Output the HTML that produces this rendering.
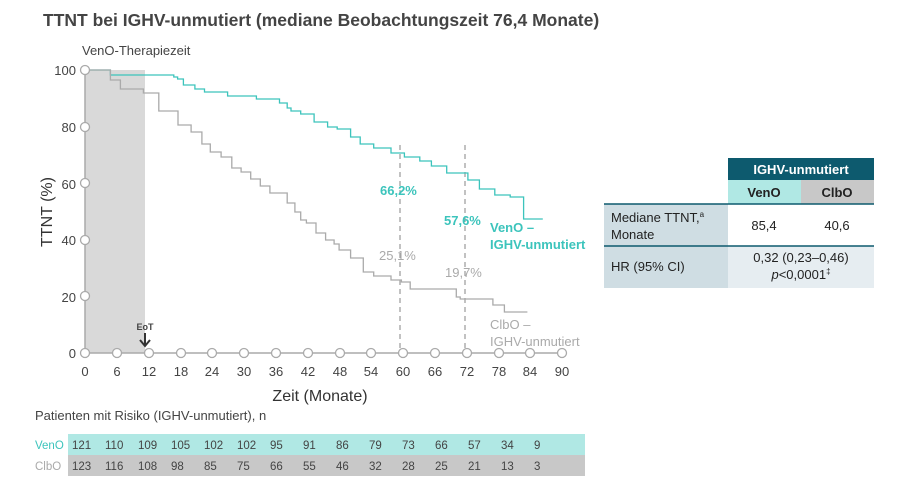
<!DOCTYPE html>
<html><head><meta charset="utf-8"><style>
body{margin:0;background:#fff;font-family:"Liberation Sans",sans-serif;}
svg text{font-family:"Liberation Sans",sans-serif;}
</style></head><body>
<svg width="909" height="493" viewBox="0 0 909 493" xmlns="http://www.w3.org/2000/svg">
<text x="43" y="26" font-size="17.5" fill="#444" font-weight="bold">TTNT bei IGHV-unmutiert (mediane Beobachtungszeit 76,4 Monate)</text>
<text x="82" y="55" font-size="13" fill="#444">VenO-Therapiezeit</text>
<rect x="85" y="70" width="60" height="283" fill="#d9d9d9"/>
<line x1="85" y1="70" x2="85" y2="353" stroke="#aaa" stroke-width="1.5"/>
<line x1="85" y1="353" x2="562" y2="353" stroke="#aaa" stroke-width="1.5"/>
<g font-size="13" fill="#444" text-anchor="end">
<text x="76" y="75">100</text><text x="76" y="132">80</text><text x="76" y="189">60</text><text x="76" y="245">40</text><text x="76" y="302">20</text><text x="76" y="358">0</text>
</g>
<line x1="400" y1="145" x2="400" y2="353" stroke="#999" stroke-width="1.2" stroke-dasharray="5,4"/>
<line x1="465" y1="145" x2="465" y2="353" stroke="#999" stroke-width="1.2" stroke-dasharray="5,4"/>
<path fill="none" stroke="#3cc4bc" stroke-width="1.3" d="M85 70 H110.4 V75 H173.8 V77 H177.6 V79 H183.4 V85 H194.9 V89 H204.5 V92 H227.6 V96 H256.4 V99 H279.5 V103 H287.2 V108 H291 V111 H300.7 V114 H314.1 V122 H327.6 V127 H337.2 V129 H350.6 V137 H360.2 V144 H373.7 V148 H391 V153 H404.4 V157 H419.8 V161 H431.4 V166 H446.7 V173 H467.9 V180 H479.4 V189 H494.8 V195 H510.2 V197 H523.6 V219 H542.8"/>
<path fill="none" stroke="#aaa" stroke-width="1.3" d="M85 70 H110.4 V80 H120.4 V89 H143.4 V93 H158.8 V111 H178 V125 H191.1 V132 H201.9 V144 H210.3 V152 H221.1 V157 H231.8 V168 H241.1 V172 H250.7 V179 H260.3 V186 H269.9 V193 H287.2 V203 H294.9 V212 H300.7 V220 H306.4 V223 H316 V233 H325.6 V240 H334.1 V244 H339.1 V250 H350.6 V258 H363.3 V272 H373.7 V276 H391 V280 H401.4 V282 H410.2 V289 H456.3 V297 H460.2 V299 H492.9 V305 H504.4 V312 H527.4"/>
<g fill="#fff" stroke="#aaa" stroke-width="1.3">
<circle cx="85" cy="70" r="4.5"/><circle cx="85" cy="127" r="4.5"/><circle cx="85" cy="183" r="4.5"/><circle cx="85" cy="240" r="4.5"/><circle cx="85" cy="296" r="4.5"/>
<circle cx="85" cy="353" r="4.5"/><circle cx="117" cy="353" r="4.5"/><circle cx="149" cy="353" r="4.5"/><circle cx="181" cy="353" r="4.5"/><circle cx="212" cy="353" r="4.5"/><circle cx="244" cy="353" r="4.5"/><circle cx="276" cy="353" r="4.5"/><circle cx="308" cy="353" r="4.5"/><circle cx="340" cy="353" r="4.5"/><circle cx="371" cy="353" r="4.5"/><circle cx="403" cy="353" r="4.5"/><circle cx="435" cy="353" r="4.5"/><circle cx="467" cy="353" r="4.5"/><circle cx="499" cy="353" r="4.5"/><circle cx="530" cy="353" r="4.5"/><circle cx="562" cy="353" r="4.5"/>
</g>
<g font-size="13" fill="#444" text-anchor="middle">
<text x="85" y="376">0</text><text x="117" y="376">6</text><text x="149" y="376">12</text><text x="181" y="376">18</text><text x="212" y="376">24</text><text x="244" y="376">30</text><text x="276" y="376">36</text><text x="308" y="376">42</text><text x="340" y="376">48</text><text x="371" y="376">54</text><text x="403" y="376">60</text><text x="435" y="376">66</text><text x="467" y="376">72</text><text x="499" y="376">78</text><text x="530" y="376">84</text><text x="562" y="376">90</text>
</g>
<text x="320" y="401" font-size="16" fill="#333" text-anchor="middle">Zeit (Monate)</text>
<text transform="translate(52,212) rotate(-90)" font-size="16" fill="#333" text-anchor="middle">TTNT (%)</text>
<text x="145" y="330" font-size="9" fill="#444" text-anchor="middle" font-weight="bold">EoT</text>
<path d="M145 333 V345 M140 340 L145 346 L150 340" stroke="#333" stroke-width="2" fill="none"/>
<g font-size="13" font-weight="bold" fill="#3cc4bc">
<text x="380" y="195">66,2%</text>
<text x="444" y="225">57,6%</text>
<text x="490" y="232">VenO –</text>
<text x="490" y="249">IGHV-unmutiert</text>
</g>
<g font-size="13" fill="#aaa">
<text x="379" y="260">25,1%</text>
<text x="445" y="277">19,7%</text>
<text x="490" y="329">ClbO –</text>
<text x="490" y="346">IGHV-unmutiert</text>
</g>
<rect x="728" y="158" width="146" height="22" fill="#0d5a6e"/>
<text x="801" y="174" font-size="13" font-weight="bold" fill="#fff" text-anchor="middle">IGHV-unmutiert</text>
<rect x="728" y="180" width="73" height="24" fill="#b0e8e4"/>
<rect x="801" y="180" width="73" height="24" fill="#c8c8c8"/>
<text x="764" y="197" font-size="13" font-weight="bold" fill="#222" text-anchor="middle">VenO</text>
<text x="837" y="197" font-size="13" font-weight="bold" fill="#222" text-anchor="middle">ClbO</text>
<rect x="604" y="204" width="124" height="42" fill="#cfdde3"/>
<rect x="604" y="246" width="270" height="42" fill="#e6edf1"/>
<rect x="604" y="246" width="124" height="42" fill="#cfdde3"/>
<line x1="604" y1="204" x2="874" y2="204" stroke="#0d5a6e" stroke-width="1.5"/>
<line x1="604" y1="246" x2="874" y2="246" stroke="#0d5a6e" stroke-width="1.5"/>
<g font-size="13" fill="#222">
<text x="611" y="222">Mediane TTNT,<tspan font-size="8" dy="-5">a</tspan></text>
<text x="611" y="239">Monate</text>
<text x="764" y="230" text-anchor="middle">85,4</text>
<text x="837" y="230" text-anchor="middle">40,6</text>
<text x="611" y="271">HR (95% CI)</text>
<text x="801" y="262" text-anchor="middle">0,32 (0,23–0,46)</text>
<text x="801" y="279" text-anchor="middle"><tspan font-style="italic">p</tspan>&lt;0,0001<tspan font-size="8" dy="-5">‡</tspan></text>
</g>
<text x="35" y="420" font-size="13" fill="#444">Patienten mit Risiko (IGHV-unmutiert), n</text>
<rect x="68" y="434" width="517" height="21" fill="#b0e8e4"/>
<rect x="68" y="455" width="517" height="21" fill="#c8c8c8"/>
<text x="35" y="449" font-size="11.5" fill="#3cc4bc">VenO</text>
<text x="35" y="470" font-size="11.5" fill="#aaa">ClbO</text>
<g font-size="11.5" fill="#444">
<text y="449"><tspan x="72">121</tspan><tspan x="105">110</tspan><tspan x="138">109</tspan><tspan x="171">105</tspan><tspan x="204">102</tspan><tspan x="237">102</tspan><tspan x="270">95</tspan><tspan x="303">91</tspan><tspan x="336">86</tspan><tspan x="369">79</tspan><tspan x="402">73</tspan><tspan x="435">66</tspan><tspan x="468">57</tspan><tspan x="501">34</tspan><tspan x="534">9</tspan></text>
<text y="470"><tspan x="72">123</tspan><tspan x="105">116</tspan><tspan x="138">108</tspan><tspan x="171">98</tspan><tspan x="204">85</tspan><tspan x="237">75</tspan><tspan x="270">66</tspan><tspan x="303">55</tspan><tspan x="336">46</tspan><tspan x="369">32</tspan><tspan x="402">28</tspan><tspan x="435">25</tspan><tspan x="468">21</tspan><tspan x="501">13</tspan><tspan x="534">3</tspan></text>
</g>
</svg>
</body></html>
